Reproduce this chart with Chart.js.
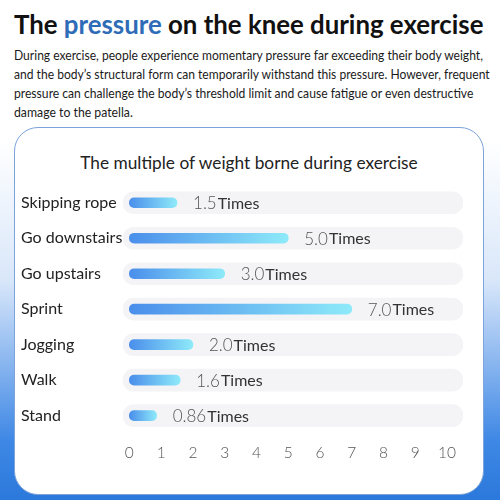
<!DOCTYPE html>
<html lang="en">
<head>
    <meta charset="UTF-8">
    <title>Knee pressure</title>
    <script src="https://cdn.jsdelivr.net/npm/chart.js"></script>
    <style>
        body {
            margin: 0;
            width: 500px;
            height: 500px;
            overflow: hidden;
            position: relative;
            font-family: Lato, sans-serif;
            background: linear-gradient(to bottom, #ffffff 0px, #ffffff 140px, #d9e7fa 280px, #3f88e5 440px, #2b79dc 500px);
        }
        h1 {
            position: absolute;
            left: 14px;
            top: 9px;
            margin: 0;
            font-size: 25.8px;
            font-weight: 700;
            color: #111;
            white-space: nowrap;
        }
        h1 span { color: #2f6cb8; }
        .intro {
            position: absolute;
            left: 14px;
            top: 46px;
            font-size: 13.5px;
            line-height: 19px;
            color: #1a1a1a;
            white-space: nowrap;
        }
        .intro span {
            display: inline-block;
            transform-origin: left center;
        }
        .card {
            position: absolute;
            left: 14px;
            top: 127px;
            width: 468px;
            height: 366px;
            background: #fff;
            border: 1px solid #7da3da;
            border-radius: 24px;
        }
        .card h2 {
            position: absolute;
            left: 0;
            top: 25px;
            width: 100%;
            margin: 0;
            text-align: center;
            font-size: 17.3px;
            line-height: 20px;
            font-weight: 400;
            color: #222;
        }
        canvas { position: absolute; left: 0; top: 0; }
    </style>
</head>
<body>
    <h1>The <span>pressure</span> on the knee during exercise</h1>
    <div class="intro">
        <span data-w="469">During exercise, people experience momentary pressure far exceeding their body weight,</span><br>
        <span data-w="476">and the body’s structural form can temporarily withstand this pressure. However, frequent</span><br>
        <span data-w="459">pressure can challenge the body’s threshold limit and cause fatigue or even destructive</span><br>
        <span data-w="119">damage to the patella.</span>
    </div>
    <div class="card">
        <h2>The multiple of weight borne during exercise</h2>
        <canvas id="chart" width="468" height="366"></canvas>
    </div>

    <script>
        const activities = ['Skipping rope', 'Go downstairs', 'Go upstairs', 'Sprint', 'Jogging', 'Walk', 'Stand'];
        const multiples = [1.5, 5.0, 3.0, 7.0, 2.0, 1.6, 0.86];
        const tickValues = [0, 1, 2, 3, 4, 5, 6, 7, 8, 9, 10];
        const trackRange = [-0.2, 10.5];

        // squeeze each intro line to the width it has in the picture
        document.querySelectorAll('.intro span').forEach(s => {
            s.style.transform = 'scaleX(' + (s.dataset.w / s.offsetWidth) + ')';
        });

        // per-bar gradient from its own start to its own end
        function barGradient(ctx) {
            const chart = ctx.chart;
            if (!chart.chartArea) return '#5fa4f0';
            const x = chart.scales.x;
            const x0 = x.getPixelForValue(0);
            const x1 = x.getPixelForValue(ctx.raw);
            const g = chart.ctx.createLinearGradient(x0, 0, x1, 0);
            g.addColorStop(0, '#4a8eeb');
            g.addColorStop(1, '#8eeaf9');
            return g;
        }

        // "x.x Times" after each bar
        const valueLabels = {
            id: 'valueLabels',
            afterDatasetsDraw(chart) {
                const ctx = chart.ctx;
                const meta = chart.getDatasetMeta(1);
                ctx.save();
                ctx.textBaseline = 'middle';
                meta.data.forEach((bar, i) => {
                    const v = multiples[i];
                    const num = v < 1 ? v.toFixed(2) : v.toFixed(1);
                    let x = bar.x + 16;
                    const y = bar.y + 1;
                    ctx.font = '300 17px Lato';
                    ctx.fillStyle = '#555';
                    ctx.fillText(num, x, y);
                    x += ctx.measureText(num).width + 1;
                    ctx.font = '16px Lato';
                    ctx.fillStyle = '#333';
                    ctx.fillText('Times', x, y);
                });
                ctx.restore();
            }
        };

        new Chart(document.getElementById('chart'), {
            type: 'bar',
            data: {
                labels: activities,
                datasets: [{
                    data: activities.map(() => trackRange),
                    backgroundColor: '#f4f4f6',
                    borderRadius: 11,
                    borderSkipped: false,
                    barThickness: 22,
                    grouped: false,
                    order: 2
                }, {
                    data: multiples,
                    backgroundColor: barGradient,
                    borderRadius: 5,
                    borderSkipped: false,
                    barThickness: 10,
                    grouped: false,
                    order: 1
                }]
            },
            options: {
                indexAxis: 'y',
                responsive: false,
                animation: false,
                layout: { padding: { left: 6, right: 20, top: 57, bottom: 30 } },
                plugins: {
                    legend: { display: false },
                    tooltip: { enabled: false }
                },
                scales: {
                    x: {
                        min: trackRange[0],
                        max: trackRange[1],
                        afterBuildTicks: s => { s.ticks = tickValues.map(v => ({ value: v })); },
                        grid: { display: false },
                        border: { display: false },
                        ticks: {
                            color: '#555',
                            padding: 2,
                            font: { family: 'Lato', size: 15.5, weight: '300' }
                        }
                    },
                    y: {
                        afterFit: s => { s.width = 102; },
                        grid: { display: false },
                        border: { display: false },
                        ticks: {
                            crossAlign: 'far',
                            color: '#222',
                            padding: 6,
                            font: { family: 'Lato', size: 16, weight: '400' }
                        }
                    }
                }
            },
            plugins: [valueLabels]
        });
    </script>
</body>
</html>
